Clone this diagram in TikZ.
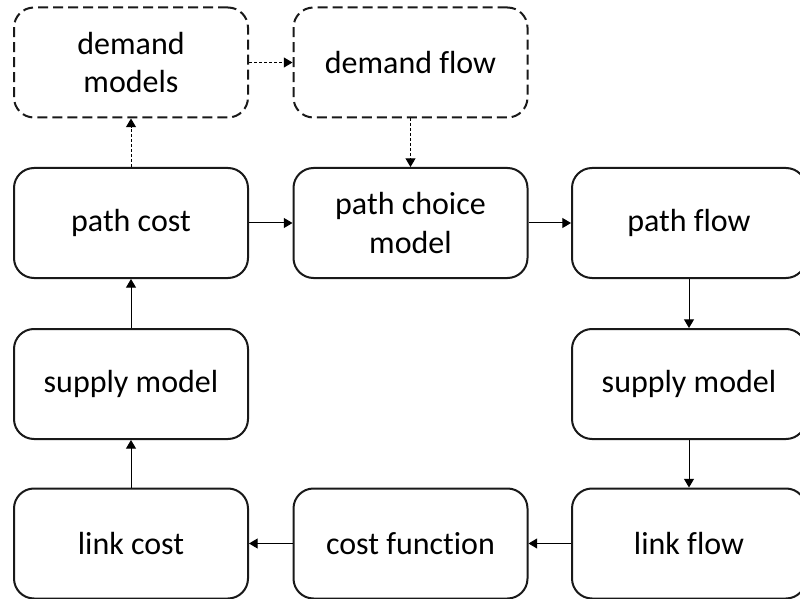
\documentclass[tikz,border=0pt]{standalone}
\usepackage{fontspec}
\setmainfont{Carlito}[Ligatures=NoCommon]
\usetikzlibrary{arrows.meta}
\begin{document}
\begin{tikzpicture}[x=0.75pt,y=-0.75pt,
  block/.style={draw=black!90, line width=1.5pt, rounded corners=15pt,
    minimum width=175.5pt, minimum height=82.5pt, align=center,
    inner sep=0pt, font=\fontsize{24}{28.5}\selectfont},
  dashblock/.style={block, dash pattern=on 7.5pt off 3.75pt},
  link/.style={line width=0.75pt, -{Triangle[length=6.5pt,width=7.5pt]}},
  dashlink/.style={link, dash pattern=on 2.25pt off 1.5pt}]
\useasboundingbox (0,0) rectangle (800,599);
\begin{scope}
\clip (0,0) rectangle (800,599);
% top row: demand side
\node[dashblock] (dm) at (131,62.5) {demand\\models};
\node[dashblock] (df) at (410.5,62.5) {demand flow};
% second row
\node[block] (pc) at (131,223) {path cost};
\node[block] (pcm) at (410.5,223) {path choice\\model};
\node[block] (pf) at (689,223) {path flow};
% third row
\node[block] (sml) at (131,384) {supply model};
\node[block] (smr) at (689,384) {supply model};
% bottom row
\node[block] (lc) at (131,543.5) {link cost};
\node[block] (cf) at (410.5,543.5) {cost function};
\node[block] (lf) at (689,543.5) {link flow};
\end{scope}
% connectors
\draw[dashlink] (dm) -- (df);
\draw[dashlink] (pc) -- (dm);
\draw[dashlink] (df) -- (pcm);
\draw[link] (pc) -- (pcm);
\draw[link] (pcm) -- (pf);
\draw[link] (pf) -- (smr);
\draw[link] (smr) -- (lf);
\draw[link] (lf) -- (cf);
\draw[link] (cf) -- (lc);
\draw[link] (lc) -- (sml);
\draw[link] (sml) -- (pc);
\end{tikzpicture}
\end{document}
